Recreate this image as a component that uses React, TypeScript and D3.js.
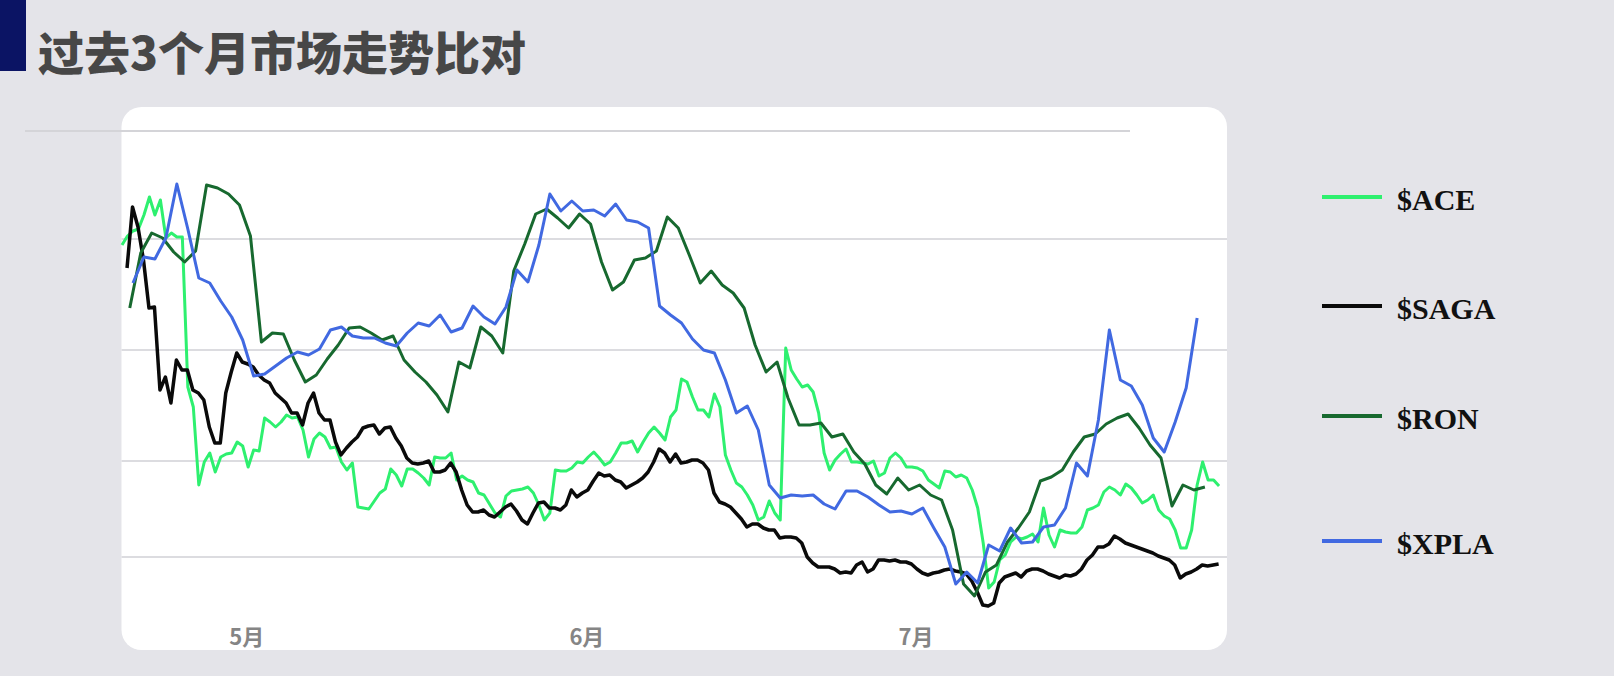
import React from 'react';
import * as d3 from 'd3';

// normalised price index (0 = bottom of plot area)
const aceValues = [
  71, 72.8, 73.8, 74.2, 77, 80.6, 77, 80, 72.4, 73.4,
  72.6, 72.6, 42.6, 38.6, 23, 27.6, 29.4, 25.6, 28.6, 29.2,
  29.4, 31.6, 30.8, 26.6, 30, 29.8, 36.4, 35.6, 34.6, 35.6,
  37, 36.4, 36.6, 34, 28.6, 32.2, 33.4, 32.6, 30.4, 30.6,
  27.6, 26, 27.4, 18.6, 18.4, 18.2, 19.8, 21.4, 22.2, 26.2,
  25, 22.8, 26.2, 26.2, 25.4, 24.4, 23, 28.6, 28.4, 28.4,
  29.4, 24, 24.8, 24, 23.6, 21.4, 21, 19.2, 17.4, 16.6,
  20.8, 21.8, 22, 22.2, 22.6, 21.4, 19, 16, 17.4, 26,
  25.8, 25.8, 26.4, 27.6, 27.4, 28.6, 29.6, 28.4, 27, 27.6,
  29.4, 31.4, 31.4, 31.8, 29.6, 31.6, 33.4, 34.6, 33.4, 32,
  36.6, 38, 44.2, 43.6, 40.6, 38, 38, 36.6, 41.2, 38.6,
  29, 26, 23.4, 22.6, 21, 19, 16, 16.6, 19.8, 17.4,
  16, 50.4, 46, 44.2, 42.6, 43, 41.6, 37.4, 29.4, 26,
  28, 29.2, 30.2, 27.6, 27.6, 27.4, 27.2, 27.8, 24.8, 25.4,
  28.4, 29.4, 28.4, 26.6, 26.6, 26.4, 25.8, 24, 23.2, 22.4,
  25.8, 25.6, 24.6, 25, 24.4, 22, 18.4, 11.4, 2.4, 3.6,
  8, 9, 11.6, 12.6, 12.2, 12.6, 13.2, 11.6, 18.4, 13,
  10.6, 14, 13.6, 13.4, 13.4, 14.6, 18, 18.4, 19, 21.6,
  22.6, 22, 21, 23.2, 22.4, 21, 19.4, 20, 21, 18,
  16.8, 16.2, 14, 10.4, 10.4, 14, 23, 27.6, 24, 24,
  22.8,
];

const sagaValues = [
  66.4, 78.6, 74.6, 68, 58.4, 58.6, 42, 44.6, 39.4, 48,
  46, 46, 42, 41.4, 40, 34.6, 31.4, 31.4, 41.4, 45.6,
  49.4, 47.6, 47.2, 46.6, 45, 44, 43.4, 41.4, 40.4, 39.4,
  37.4, 37.4, 35, 39.4, 41.4, 37.4, 36, 36, 31.6, 29,
  30.4, 31.6, 32.6, 34.4, 34.8, 35, 33.2, 34.4, 34.6, 32.4,
  30.8, 28.4, 27.4, 27.2, 27.4, 27.8, 25.6, 25.6, 26, 27.4,
  25.6, 22, 19, 17.6, 17.6, 18, 17, 16.6, 17.6, 18.6,
  19.2, 17.8, 16, 15.2, 17.4, 19.4, 19.6, 18.4, 18.4, 18,
  19, 22, 20.6, 21.4, 22, 23.8, 25.4, 24.8, 25, 24,
  23.6, 22.4, 23, 23.6, 24.4, 25.6, 27.6, 30.2, 29.4, 27.6,
  29.2, 27.4, 27.6, 28, 28, 27.4, 26, 21.4, 19.6, 19.2,
  18.6, 17.4, 16.2, 14.6, 15.2, 15.2, 14.4, 14, 14, 12.4,
  12.6, 12.6, 12.4, 11.4, 8.6, 7.4, 6.6, 6.6, 6.6, 6.2,
  5.4, 5.6, 5.4, 7, 7.6, 5.6, 6.2, 8, 8, 7.8,
  8, 7.6, 7.6, 7.2, 6.2, 5.4, 5, 5.4, 5.6, 6,
  6.2, 5.8, 5.6, 5.2, 3.8, 1.6, -1, -1.2, -0.6, 3.4,
  4.6, 5, 5.4, 4.6, 5.8, 6.2, 6.2, 5.8, 5.2, 4.8,
  4.4, 5, 4.8, 5.2, 6.2, 8, 9, 10.6, 10.6, 11.2,
  12.8, 12.2, 11.4, 11, 10.6, 10.2, 9.8, 9.4, 8.8, 8.4,
  8, 7, 4.4, 5.2, 5.6, 6.2, 7, 6.8, 7, 7.2,
];

const ronValues = [
  58.4, 69.4, 73.4, 72.4, 69.6, 67.6, 69.8, 83, 82.4, 81.2,
  79, 72.8, 51.6, 53.4, 53.2, 48, 43.6, 45, 48.2, 51,
  54.4, 54.6, 53.4, 52, 52.8, 48, 45.6, 43.6, 41, 37.6,
  47.6, 46.4, 54.6, 52.8, 49.4, 65.8, 71.2, 77.2, 78.2, 76.4,
  74.4, 77.2, 75.2, 67.6, 62, 63.6, 68, 68.4, 69.8, 76.6,
  74.4, 69, 63.4, 65.8, 63, 61.4, 58.4, 51, 45.6, 47.6,
  40.4, 35, 35, 35.4, 32.6, 33.2, 29.6, 27.2, 23, 21.2,
  24.4, 22, 23, 21, 20, 14, 3.2, 0.8, 5.6, 7,
  11.6, 14.4, 17.6, 23.8, 24.6, 26, 29.6, 32.6, 33.2, 35.2,
  36.4, 37.2, 34.4, 31, 28.4, 18.8, 23, 22, 22.6,
];

const xplaValues = [
  63.4, 68.6, 68.2, 72.4, 83.2, 74.2, 64.4, 63.4, 59.8, 56.6,
  52, 44.8, 45.2, 46.8, 48.4, 49.6, 49, 50.2, 54, 54.6,
  52.8, 52.4, 52.4, 51.4, 50.8, 53.4, 55.4, 54.8, 57, 53.6,
  54.4, 58.8, 56.6, 55.2, 58.6, 66, 63.6, 71, 81.2, 77.8,
  79.8, 77.8, 78, 76.8, 79.2, 76, 75.6, 74.4, 58.8, 57,
  55.4, 52.2, 50, 49.4, 44, 37.4, 38.8, 34, 23, 20.4,
  21, 20.8, 21, 19.2, 18.2, 21.8, 21.8, 20.6, 19, 17.6,
  17.8, 17.2, 18.4, 14.4, 10.6, 3.2, 5.6, 3.4, 11, 9.8,
  14.4, 11.4, 11.6, 14.6, 15, 18.4, 27.4, 24.8, 36, 54,
  44, 42.8, 39, 32.4, 29.6, 35.6, 42.4, 56.4,
];

const gridValues = [72.2, 50, 27.8, 8.6];
const monthTicks = [new Date(2024, 4, 1), new Date(2024, 5, 1), new Date(2024, 6, 1)];
const monthLabels = ['5月', '6月', '7月'];

const series = [
  { name: '$ACE', color: '#2ef06f', start: new Date(2024, 3, 19, 15), step: 12, values: aceValues, width: 3 },
  { name: '$SAGA', color: '#0a0a0a', start: new Date(2024, 3, 20, 2), step: 12, values: sagaValues, width: 3.5 },
  { name: '$RON', color: '#17692f', start: new Date(2024, 3, 20, 8), step: 24, values: ronValues, width: 3 },
  { name: '$XPLA', color: '#4169e1', start: new Date(2024, 3, 20, 15), step: 24, values: xplaValues, width: 3 },
];

const App = () => {
  const width = 1614;
  const height = 676;
  const card = { x: 121.5, y: 107, w: 1105.5, h: 543 };
  const legendY = [197, 306, 416, 541];

  const x = d3
    .scaleTime()
    .domain([new Date(2024, 3, 19, 15), new Date(2024, 6, 28, 19)])
    .range([122, 1220.9]);
  const y = d3.scaleLinear().domain([0, 100]).range([600, 100]);

  return (
    <svg
      width={width}
      height={height}
      style={{ position: 'absolute', left: 0, top: 0 }}
    >
      <rect width={width} height={height} fill='#e4e4e9' />
      <rect x={0} y={0} width={26} height={71} fill='#0b1464' />
      <text
        x={38}
        y={70}
        fontSize={46}
        fontWeight={900}
        fontFamily='"Noto Sans CJK SC", sans-serif'
        fill='#474747'
      >
        过去3个月市场走势比对
      </text>

      <rect x={card.x} y={card.y} width={card.w} height={card.h} rx={20} fill='#ffffff' />
      <line x1={25} x2={1130} y1={131} y2={131} stroke='#d4d4d8' strokeWidth={2} />

      {gridValues.map((v) => (
        <line
          key={v}
          x1={card.x}
          x2={card.x + card.w}
          y1={y(v)}
          y2={y(v)}
          stroke='#dcdce0'
          strokeWidth={2}
        />
      ))}

      {monthTicks.map((d, i) => (
        <text
          key={i}
          x={x(d)}
          y={645}
          textAnchor='middle'
          fontSize={22}
          fontWeight={700}
          fontFamily='"Noto Sans CJK SC", sans-serif'
          fill='#858585'
        >
          {monthLabels[i]}
        </text>
      ))}

      {series.map((s) => {
        const line = d3
          .line<number>()
          .x((_, i) => x(d3.timeHour.offset(s.start, i * s.step)))
          .y((v) => y(v));
        return (
          <path
            key={s.name}
            d={line(s.values) || ''}
            fill='none'
            stroke={s.color}
            strokeWidth={s.width}
            strokeLinejoin='round'
          />
        );
      })}

      {series.map((s, i) => (
        <g key={s.name} transform={`translate(1322,${legendY[i]})`}>
          <line x1={0} x2={60} y1={0} y2={0} stroke={s.color} strokeWidth={4} />
          <text
            x={75}
            y={13}
            fontSize={30}
            fontWeight={700}
            fontFamily='"Liberation Serif", serif'
            fill='#111'
          >
            {s.name}
          </text>
        </g>
      ))}
    </svg>
  );
};

export default App;
